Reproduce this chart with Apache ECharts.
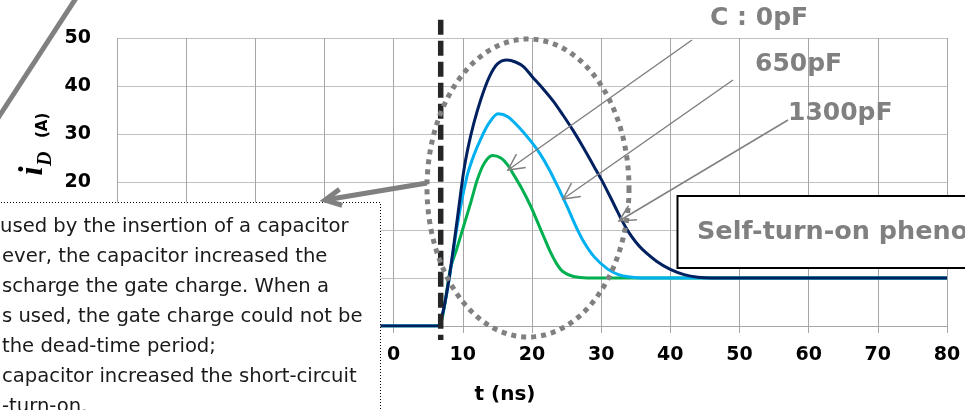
<!DOCTYPE html>
<html><head><meta charset="utf-8">
<script src="https://cdn.jsdelivr.net/npm/echarts@6/dist/echarts.min.js"></script>
<style>html,body{margin:0;padding:0;background:#fff}#c{width:965px;height:410px}</style>
</head><body><div id="c"></div>
<script>
// ---- data (t in ns, iD in A) ----
const tNavy = [-40, 6.3, 7.0, 8.0, 9.2, 10.1, 10.7, 11.6, 12.6, 13.8, 15.0, 16.4, 17.6, 18.8, 20.0, 21.5, 23.1, 24.5, 26.0, 27.5, 28.9, 30.0, 31.0, 32.0, 33.0, 34.0, 35.0, 36.0, 38.0, 40.0, 42.0, 44.0, 46.0, 80];
const iNavy = [-10, -10, -7.9, -0.2, 12.3, 22.0, 26.8, 32.3, 37.2, 41.8, 44.6, 45.4, 45.0, 44.0, 42.0, 39.6, 36.8, 33.9, 30.6, 27.0, 23.4, 20.6, 17.8, 14.9, 12.0, 9.5, 7.5, 5.9, 3.5, 1.8, 0.7, 0.15, 0, 0];
const tBlue = [-40, 6.3, 7.0, 8.0, 9.2, 10.6, 11.6, 12.6, 13.8, 15.1, 16.5, 18.3, 20.0, 21.2, 22.6, 24.1, 25.2, 26.3, 27.5, 29.0, 30.9, 32.5, 34.2, 36.0, 80];
const iBlue = [-10, -10, -8.0, -0.5, 11.0, 21.2, 25.6, 29.0, 32.3, 34.2, 33.6, 31.1, 28.2, 25.8, 22.3, 17.9, 14.5, 10.9, 7.5, 4.4, 1.9, 0.7, 0.2, 0, 0];
const tGreen = [-40, 6.3, 7.0, 8.2, 9.1, 10.2, 11.2, 12.1, 13.1, 14.3, 15.5, 16.5, 17.4, 18.5, 19.8, 20.7, 21.7, 22.6, 23.6, 24.5, 26.0, 28.0, 80];
const iGreen = [-10, -10, -8.5, 1.9, 6.0, 11.2, 16.0, 20.5, 23.9, 25.5, 25.0, 23.5, 21.4, 18.7, 15.0, 12.0, 8.6, 5.6, 2.9, 1.3, 0.3, 0, 0];
const deadTimeT = [6.8, 6.8];
const deadTimeI = [53.8, -12.9];
const xRange = [-40, 80, 10];
const yRange = [-10, 50, 10];
const seriesNames = ['1300pF', '650pF', 'C : 0pF'];
const noteLines = [
  'used by the insertion of a capacitor',
  'ever, the capacitor increased the',
  'scharge the gate charge. When a',
  's used, the gate charge could not be',
  'the dead-time period;',
  'capacitor increased the short-circuit',
  '-turn-on.'
];

const zip = (a, b) => a.map((v, k) => [v, b[k]]);
const chart = echarts.init(document.getElementById('c'));
const gray = '#808080';
const vLine = '#a6a6a6', hLine = '#c0c0c0';
const tickFont = {color: '#000', fontSize: 19, fontWeight: 'bold', fontFamily: 'DejaVu Sans'};

function arrow(x1, y1, x2, y2, w, hl, ang, color, z) {
  const dx = x1 - x2, dy = y1 - y2, L = Math.hypot(dx, dy);
  const ux = dx / L, uy = dy / L, a = ang * Math.PI / 180;
  const rot = s => [x2 + hl * (ux * Math.cos(s * a) - uy * Math.sin(s * a)), y2 + hl * (ux * Math.sin(s * a) + uy * Math.cos(s * a))];
  return [
    {type: 'line', z, shape: {x1, y1, x2, y2}, style: {stroke: color, lineWidth: w}},
    {type: 'polyline', z, shape: {points: [rot(1), [x2, y2], rot(-1)]}, style: {stroke: color, lineWidth: w, fill: null}}
  ];
}

const ell = [];
for (let k = 0; k < 180; k++) {
  const th = k / 180 * Math.PI * 2;
  ell.push([528 + 101 * Math.cos(th), 188 + 149 * Math.sin(th)]);
}

const graphics = [
  {type: 'polygon', z: 60, shape: {points: ell}, style: {fill: null, stroke: gray, lineWidth: 5, lineDash: [5, 5]}},
  ...arrow(692, 40, 508, 170, 1.5, 18, 27, gray, 70),
  ...arrow(733, 80, 563, 199, 1.5, 18, 27, gray, 70),
  ...arrow(788, 120, 619, 221, 1.5, 18, 27, gray, 70),
  {type: 'text', z: 70, x: 710, y: 18, style: {text: 'C : 0pF', fill: gray, font: 'bold 25px "DejaVu Sans"', align: 'left', verticalAlign: 'middle'}},
  {type: 'text', z: 70, x: 755, y: 64, style: {text: '650pF', fill: gray, font: 'bold 25px "DejaVu Sans"', align: 'left', verticalAlign: 'middle'}},
  {type: 'text', z: 70, x: 788, y: 113, style: {text: '1300pF', fill: gray, font: 'bold 25px "DejaVu Sans"', align: 'left', verticalAlign: 'middle'}},
  {type: 'rect', z: 80, shape: {x: 677.5, y: 196, width: 400, height: 72}, style: {fill: '#fff', stroke: '#000', lineWidth: 2}},
  {type: 'text', z: 81, x: 697, y: 232, style: {text: 'Self-turn-on phenomenon', fill: gray, font: 'bold 25.5px "DejaVu Sans"', align: 'left', verticalAlign: 'middle'}},
  {type: 'rect', z: 110, shape: {x: -5, y: 202.5, width: 385.5, height: 230}, style: {fill: '#fff', stroke: '#000', lineWidth: 1, lineDash: [1, 2]}},
  ...noteLines.map((s, k) => ({type: 'text', z: 111, x: k === 0 ? 0 : 2, y: 227 + 30 * k, style: {text: s, fill: '#1a1a1a', font: '19.6px "DejaVu Sans"', align: 'left', verticalAlign: 'middle'}})),
  ...arrow(427, 183, 325, 200, 5, 18, 27, gray, 120),
  {type: 'line', z: 120, shape: {x1: -5, y1: 122.7, x2: 80, y2: -8}, style: {stroke: gray, lineWidth: 5}},
  {type: 'text', z: 70, x: 505, y: 395, style: {text: 't (ns)', fill: '#000', font: 'bold 20px "DejaVu Sans"', align: 'center', verticalAlign: 'middle'}},
  {type: 'group', x: 40, y: 180, rotation: Math.PI / 2, z: 70, children: [
    {type: 'text', z: 70, x: 9, y: -7, style: {text: 'i', fill: '#000', font: 'italic bold 33px "Liberation Serif"', align: 'center', verticalAlign: 'middle'}},
    {type: 'text', z: 70, x: 14, y: 5.5, style: {text: 'D', fill: '#000', font: 'italic bold 20px "Liberation Serif"', align: 'left', verticalAlign: 'middle'}},
    {type: 'text', z: 70, x: 42, y: 3.5, style: {text: '(A)', fill: '#000', font: 'bold 15px "DejaVu Sans"', align: 'left', verticalAlign: 'middle'}}
  ]}
];

const lineSeries = (name, t, i, color) => ({
  name, type: 'line', data: zip(t, i), showSymbol: false, smooth: 0.3, silent: true,
  lineStyle: {color, width: 3}, z: 3
});

chart.setOption({
  animation: false,
  grid: {left: 117, right: 18, top: 38, bottom: 84, containLabel: false},
  xAxis: {
    type: 'value', min: xRange[0], max: xRange[1], interval: xRange[2],
    axisLine: {show: true, onZero: false, lineStyle: {color: vLine, width: 1}},
    axisTick: {show: true, length: 7, lineStyle: {color: vLine}},
    axisLabel: Object.assign({margin: 20}, tickFont),
    splitLine: {show: true, lineStyle: {color: vLine, width: 1}}
  },
  yAxis: {
    type: 'value', min: yRange[0], max: yRange[1], interval: yRange[2],
    axisLine: {show: false},
    axisTick: {show: true, length: 9, lineStyle: {color: hLine}},
    axisLabel: Object.assign({margin: 26}, tickFont),
    splitLine: {show: true, lineStyle: {color: hLine, width: 1}}
  },
  series: [
    lineSeries(seriesNames[0], tGreen, iGreen, '#00b050'),
    lineSeries(seriesNames[1], tBlue, iBlue, '#00b0f0'),
    lineSeries(seriesNames[2], tNavy, iNavy, '#002060'),
    {name: 'dead time', type: 'line', data: zip(deadTimeT, deadTimeI), showSymbol: false, clip: false, silent: true, z: 5,
     lineStyle: {color: '#262626', width: 5.5, type: [15, 6], cap: 'butt'}}
  ],
  graphic: graphics
});
</script>
</body></html>
